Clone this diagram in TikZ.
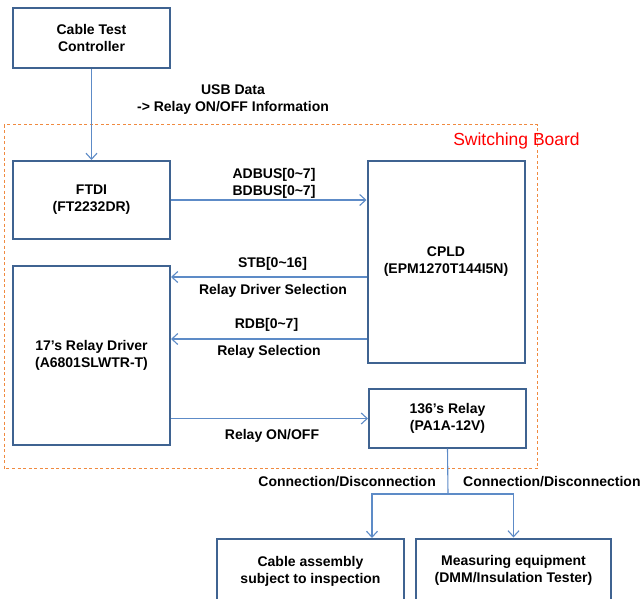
\documentclass[tikz,border=0pt]{standalone}
\usepackage{fontspec}
\setmainfont{Liberation Sans}
\usepackage{tikz}
\usetikzlibrary{arrows.meta,positioning,calc}
\definecolor{boxblue}{HTML}{3F6391}
\definecolor{linkblue}{HTML}{5D8BC7}
\definecolor{boardorange}{HTML}{F08A40}
\newcommand{\lblfont}{\fontsize{14}{17}\selectfont\bfseries}
\tikzset{
    block/.style={draw=boxblue, line width=2pt, fill=white, minimum width=157pt, align=center, font=\lblfont, inner sep=2pt},
    link/.style={draw=linkblue, line width=1.1pt, -{Straight Barb[length=6pt,width=11pt]}},
    wire/.style={draw=linkblue, line width=1.1pt},
    board/.style={draw=boardorange, line width=1pt, dash pattern=on 3pt off 2.5pt},
    label/.style={font=\lblfont, align=center, inner sep=0pt},
    title/.style={font=\fontsize{17.5}{20}\selectfont, text=red, inner sep=0pt},
}

\begin{document}
\begin{tikzpicture}[x=1pt, y=-1pt]
    \useasboundingbox (0,0) rectangle (642,598);

    % Switching board frame
    \draw[board] (4,124.5) rectangle (537.5,468.5);
    \node[title] (boardlbl) at (516.5,140.5) {Switching Board};

    % Blocks
    \node[block, minimum height=60pt] (ctrl) at (91.5,38) {Cable Test\\Controller};
    \node[block, minimum height=78pt] (ftdi) at (91.5,200) {FTDI\\(FT2232DR)};
    \node[block, minimum height=202pt] (cpld) at (446,262) {CPLD\\(EPM1270T144I5N)};
    \node[block, minimum height=179pt] (drv) at (91.5,355.5) {17’s Relay Driver\\(A6801SLWTR-T)};
    \node[block, minimum height=59pt] (relay) at (447.5,418) {136’s Relay\\(PA1A-12V)};
    \node[block, minimum width=187pt, minimum height=64pt] (cable) at (310.5,571) {Cable assembly\\subject to inspection};
    \node[block, minimum width=195pt, minimum height=64pt] (meas) at (513.5,570.5) {Measuring equipment\\(DMM/Insulation Tester)};

    % Signal levels
    \coordinate (stb) at (0,277);
    \coordinate (rdb) at (0,339);
    \coordinate (onoff) at (0,418.5);
    \coordinate (split) at (448,494);
    \coordinate (cablein) at (372,0);

    % Connectors
    \draw[link] (ctrl.south) -- (ctrl.south |- ftdi.north);
    \draw[link] (ftdi.east) -- (ftdi.east -| cpld.west);
    \draw[link] (cpld.west |- stb) -- (drv.east |- stb);
    \draw[link] (cpld.west |- rdb) -- (drv.east |- rdb);
    \draw[link] (drv.east |- onoff) -- (relay.west |- onoff);
    \draw[wire] (relay.south) -- (split);
    \draw[link] (split) -| (cablein |- cable.north);
    \draw[link] (split) -| (meas.north);

    % Labels
    \node[label] (usb) at (233,100) {USB Data\\-> Relay ON/OFF Information};
    \node[label] (bus) at (274,183) {ADBUS[0\textasciitilde7]\\BDBUS[0\textasciitilde7]};
    \node[label] (stblbl) at (272.5,263.5) {STB[0\textasciitilde16]};
    \node[label] (drvsel) at (273,290.5) {Relay Driver Selection};
    \node[label] (rdblbl) at (266.5,325) {RDB[0\textasciitilde7]};
    \node[label] (relsel) at (269,351.5) {Relay Selection};
    \node[label] (onofflbl) at (272,436) {Relay ON/OFF};
    \node[label, anchor=east] (conn1) at (436,482) {Connection/Disconnection};
    \node[label, anchor=west] (conn2) at (463,482) {Connection/Disconnection};
\end{tikzpicture}
\end{document}
